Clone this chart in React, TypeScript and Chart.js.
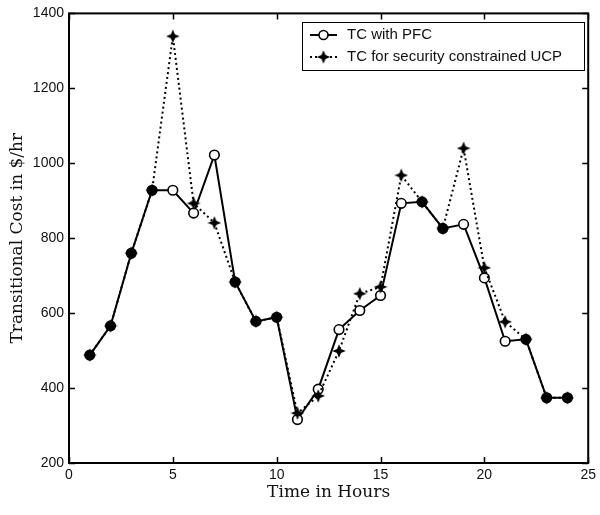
import React, { useEffect, useRef } from "react";
import { Chart, registerables } from "chart.js";

Chart.register(...registerables);

// ---- Data ----
const hours = [1, 2, 3, 4, 5, 6, 7, 8, 9, 10, 11, 12, 13, 14, 15, 16, 17, 18, 19, 20, 21, 22, 23, 24];
const pfcCost = [488, 566, 760, 928, 928, 867, 1022, 683, 578, 589, 316, 397, 556, 607, 647, 893, 897, 826, 837, 694, 525, 530, 374, 374];
const ucpCost = [488, 566, 760, 928, 1339, 893, 841, 683, 578, 589, 333, 379, 499, 652, 670, 968, 897, 826, 1040, 721, 577, 530, 374, 374];
const seriesLabels = ["TC with PFC", "TC for security constrained UCP"];
const xTickValues = [0, 5, 10, 15, 20, 25];
const yTickValues = [200, 400, 600, 800, 1000, 1200, 1400];
const xTitle = "Time in Hours";
const yTitle = "Transitional Cost in $/hr";

const SANS = "'Liberation Sans', Arial, sans-serif";
const SERIF = "'DejaVu Serif', 'Liberation Serif', serif";

function makeStar(): HTMLCanvasElement {
  const c = document.createElement("canvas");
  c.width = 14;
  c.height = 14;
  const g = c.getContext("2d")!;
  g.translate(7, 7);
  g.fillStyle = "#000";
  g.beginPath();
  for (let i = 0; i < 8; i++) {
    const r = i % 2 === 0 ? 6.8 : 2.8;
    const a = (i * Math.PI) / 4 - Math.PI / 2;
    g.lineTo(r * Math.cos(a), r * Math.sin(a));
  }
  g.closePath();
  g.fill();
  return c;
}

export default function App() {
  const ref = useRef<HTMLCanvasElement | null>(null);

  useEffect(() => {
    if (!ref.current) return;
    const star = makeStar();

    const framePlugin = {
      id: "frame",
      afterDatasetsDraw(chart: any) {
        const { ctx, chartArea: a, scales } = chart;
        const xs = scales.x;
        const ys = scales.y;
        ctx.save();
        ctx.strokeStyle = "#000";
        ctx.lineWidth = 2;
        ctx.strokeRect(a.left, a.top, a.right - a.left, a.bottom - a.top);
        const tl = 6;
        ctx.lineWidth = 1.5;
        ctx.beginPath();
        xTickValues.forEach((v) => {
          const px = Math.round(xs.getPixelForValue(v)) + 0.5;
          ctx.moveTo(px, a.bottom);
          ctx.lineTo(px, a.bottom - tl);
          ctx.moveTo(px, a.top);
          ctx.lineTo(px, a.top + tl);
        });
        yTickValues.forEach((v) => {
          const py = Math.round(ys.getPixelForValue(v)) + 0.5;
          ctx.moveTo(a.left, py);
          ctx.lineTo(a.left + tl, py);
          ctx.moveTo(a.right, py);
          ctx.lineTo(a.right - tl, py);
        });
        ctx.stroke();
        ctx.restore();
      },
      afterDraw(chart: any) {
        const { ctx } = chart;
        ctx.save();
        const bx = 302, by = 22, bw = 282, bh = 48;
        ctx.fillStyle = "#fff";
        ctx.fillRect(bx, by, bw, bh);
        ctx.strokeStyle = "#000";
        ctx.lineWidth = 1;
        ctx.strokeRect(bx + 0.5, by + 0.5, bw, bh);
        const rows = [35, 57];
        // entry 1
        ctx.lineWidth = 2;
        ctx.setLineDash([]);
        ctx.beginPath();
        ctx.moveTo(310, rows[0]);
        ctx.lineTo(337, rows[0]);
        ctx.stroke();
        ctx.beginPath();
        ctx.arc(323.5, rows[0], 4.5, 0, Math.PI * 2);
        ctx.fillStyle = "#fff";
        ctx.fill();
        ctx.lineWidth = 1.6;
        ctx.stroke();
        // entry 2
        ctx.lineWidth = 2;
        ctx.setLineDash([2, 3]);
        ctx.beginPath();
        ctx.moveTo(310, rows[1]);
        ctx.lineTo(337, rows[1]);
        ctx.stroke();
        ctx.setLineDash([]);
        ctx.drawImage(star, 323.5 - 7, rows[1] - 7);
        ctx.fillStyle = "#111";
        ctx.font = `15px ${SANS}`;
        ctx.textBaseline = "middle";
        ctx.textAlign = "left";
        ctx.fillText(seriesLabels[0], 347, rows[0]);
        ctx.fillText(seriesLabels[1], 347, rows[1]);
        ctx.restore();
      },
    };

    const chart = new Chart(ref.current, {
      type: "line",
      data: {
        datasets: [
          {
            label: seriesLabels[0],
            data: hours.map((h, i) => ({ x: h, y: pfcCost[i] })),
            borderColor: "#000",
            borderWidth: 2,
            pointStyle: "circle",
            pointRadius: 4.8,
            pointBorderWidth: 1.6,
            pointBorderColor: "#000",
            pointBackgroundColor: (c: any) =>
              pfcCost[c.dataIndex] === ucpCost[c.dataIndex] ? "#000" : "#fff",
            tension: 0,
            order: 2,
          },
          {
            label: seriesLabels[1],
            data: hours.map((h, i) => ({ x: h, y: ucpCost[i] })),
            borderColor: "#000",
            borderWidth: 2,
            borderDash: [2, 3],
            pointStyle: star,
            pointRadius: 6,
            tension: 0,
            order: 1,
          },
        ],
      },
      options: {
        responsive: false,
        animation: false,
        events: [],
        layout: { padding: { top: 13, right: 9, left: 0, bottom: 0 } },
        plugins: {
          legend: { display: false },
          tooltip: { enabled: false },
        },
        scales: {
          x: {
            type: "linear",
            min: 0,
            max: 25,
            grid: { display: false, drawTicks: false },
            border: { display: false },
            afterBuildTicks: (s: any) => {
              s.ticks = xTickValues.map((v) => ({ value: v }));
            },
            afterFit: (s: any) => {
              s.height = 52;
            },
            ticks: {
              color: "#111",
              font: { family: SANS, size: 14 },
              padding: 4,
              maxRotation: 0,
              callback: (v: any) => String(v),
            },
            title: {
              display: true,
              text: xTitle,
              color: "#111",
              font: { family: SERIF, size: 17 },
              padding: { top: 0, bottom: 12 },
            },
          },
          y: {
            type: "linear",
            min: 200,
            max: 1400,
            grid: { display: false, drawTicks: false },
            border: { display: false },
            afterBuildTicks: (s: any) => {
              s.ticks = yTickValues.map((v) => ({ value: v }));
            },
            afterFit: (s: any) => {
              s.width = 69;
            },
            ticks: {
              color: "#111",
              font: { family: SANS, size: 14 },
              padding: 5,
              callback: (v: any) => String(v),
            },
            title: {
              display: true,
              text: yTitle,
              color: "#111",
              font: { family: SERIF, size: 17 },
              padding: { top: 7, bottom: 0 },
            },
          },
        },
      },
      plugins: [framePlugin],
    } as any);

    return () => chart.destroy();
  }, []);

  return (
    <div style={{ position: "absolute", left: 0, top: 0, width: 600, height: 515, background: "#fff" }}>
      <canvas ref={ref} width={600} height={515} />
    </div>
  );
}
